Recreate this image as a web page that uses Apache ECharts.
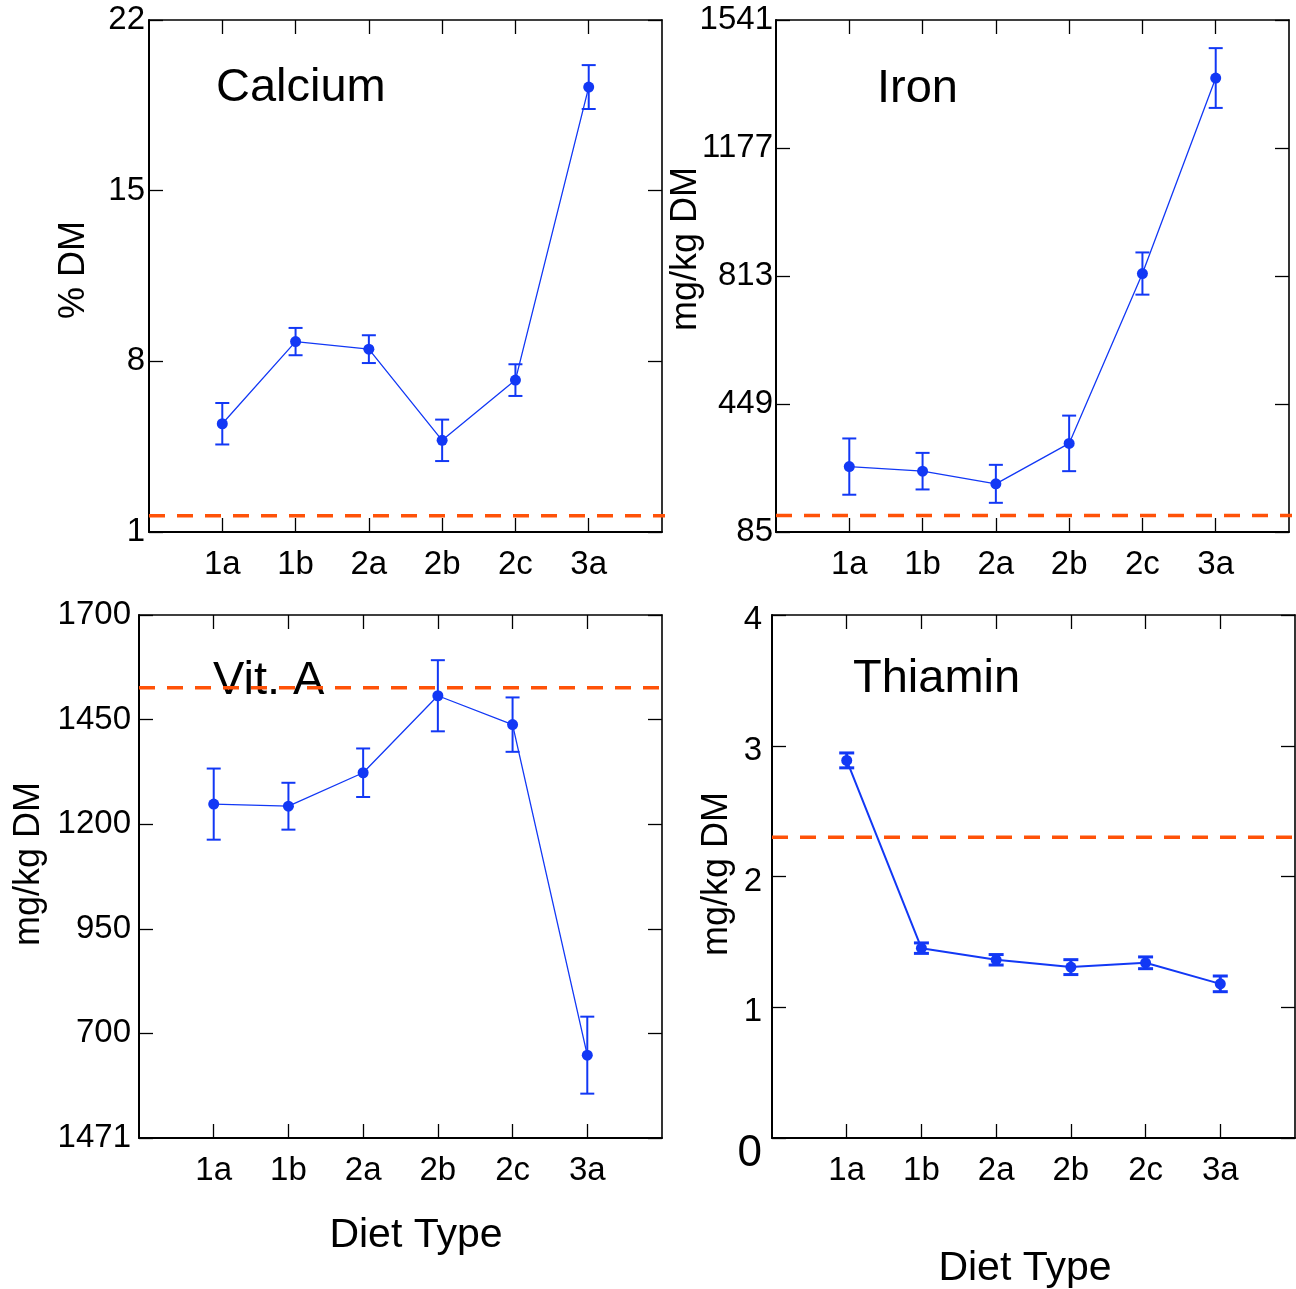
<!DOCTYPE html>
<html>
<head>
<meta charset="utf-8">
<script src="https://cdn.jsdelivr.net/npm/echarts@6/dist/echarts.min.js"></script>
<style>
  html, body { margin: 0; padding: 0; background: #ffffff; }
  #chart { width: 1296px; height: 1289px; }
</style>
</head>
<body>
<div id="chart"></div>
<script>
// Diet types along the x axis (placed at positions 1..6)
const dietTypes = ['1a', '1b', '2a', '2b', '2c', '3a'];

// Calcium, % DM
const calciumMean = [5.44, 8.81, 8.50, 4.76, 7.23, 19.25];
const calciumErr = [0.85, 0.56, 0.57, 0.85, 0.65, 0.90];
const calciumRef = 1.67;
const calciumTicks = [1, 8, 15, 22];

// Iron, mg/kg DM
const ironMean = [271, 258, 222, 337, 820, 1376];
const ironErr = [80, 52, 54, 79, 60, 85];
const ironRef = 132;
const ironTicks = [85, 449, 813, 1177, 1541];

// Vitamin A, mg/kg DM
const vitAMean = [1248, 1243, 1323, 1507, 1438, 648];
const vitAErr = [85, 56, 58, 85, 65, 92];
const vitARef = 1526;
const vitATicks = [450, 700, 950, 1200, 1450, 1700];
const vitATickLabels = ['1471', '700', '950', '1200', '1450', '1700'];

// Thiamin, mg/kg DM
const thiaminMean = [2.888, 1.452, 1.363, 1.307, 1.340, 1.179];
const thiaminErr = [0.057, 0.040, 0.040, 0.057, 0.045, 0.060];
const thiaminRef = 2.3;
const thiaminTicks = [0, 1, 2, 3, 4];

const FONT = '"Liberation Sans", Arial, Helvetica, sans-serif';
const BLUE = '#1238f5';
const ORANGE = '#ff5208';
const catPos = dietTypes.map((_, i) => i + 1);

const panels = [
  {
    title: 'Calcium', mean: calciumMean, err: calciumErr, ref: calciumRef, refEnd: 7.12,
    ticks: calciumTicks, tickLabels: calciumTicks.map(String),
    grid: { left: 149, top: 20, width: 513, height: 512 },
    labelMargin: 4, lineWidth: 1.3, barWidth: 2, capW: 14
  },
  {
    title: 'Iron', mean: ironMean, err: ironErr, ref: ironRef, refEnd: 7.11,
    ticks: ironTicks, tickLabels: ironTicks.map(String),
    grid: { left: 776, top: 20, width: 513, height: 512 },
    labelMargin: 3, lineWidth: 1.3, barWidth: 2, capW: 14
  },
  {
    title: 'Vit. A', mean: vitAMean, err: vitAErr, ref: vitARef, refEnd: 7.0,
    ticks: vitATicks, tickLabels: vitATickLabels,
    grid: { left: 139, top: 615, width: 523, height: 523 },
    labelMargin: 8, lineWidth: 1.3, barWidth: 2, capW: 14
  },
  {
    title: 'Thiamin', mean: thiaminMean, err: thiaminErr, ref: thiaminRef, refEnd: 7.0,
    ticks: thiaminTicks, tickLabels: thiaminTicks.map(String),
    grid: { left: 772, top: 615, width: 523, height: 523 },
    labelMargin: 10, lineWidth: 2, barWidth: 3, capW: 15, bigZero: true
  }
];

const grids = [], xAxes = [], yAxes = [], series = [];

panels.forEach((p, g) => {
  grids.push(Object.assign({ containLabel: false }, p.grid));
  const ymin = p.ticks[0], ymax = p.ticks[p.ticks.length - 1];

  const tickStyle = { show: true, inside: true, length: 14, lineStyle: { color: '#000', width: 1.3 } };
  const mainLine = { show: true, onZero: false, lineStyle: { color: '#000', width: 2 } };
  const mirrorLine = { show: true, onZero: false, lineStyle: { color: '#000', width: 1.6 } };

  // bottom x axis with labels
  xAxes.push({
    gridIndex: g, type: 'value', position: 'bottom', min: 0, max: 7,
    axisLine: mainLine,
    axisTick: Object.assign({ customValues: catPos }, tickStyle),
    axisLabel: {
      customValues: catPos, margin: 16, color: '#000', fontSize: 33, fontFamily: FONT,
      formatter: v => dietTypes[Math.round(v) - 1] || ''
    },
    splitLine: { show: false }
  });
  // top mirror axis
  xAxes.push({
    gridIndex: g, type: 'value', position: 'top', min: 0, max: 7,
    axisLine: mirrorLine,
    axisTick: Object.assign({ customValues: catPos }, tickStyle),
    axisLabel: { show: false }, splitLine: { show: false }
  });

  const labelCfg = {
    customValues: p.ticks, margin: p.labelMargin, color: '#000', fontSize: 33, fontFamily: FONT,
    padding: [10, 0, 0, 0],
    formatter: v => {
      const idx = p.ticks.indexOf(v);
      const txt = idx >= 0 ? p.tickLabels[idx] : '';
      if (p.bigZero && v === 0) return '{big|' + txt + '}';
      return txt;
    }
  };
  if (p.bigZero) {
    labelCfg.rich = { big: { fontSize: 44, fontFamily: FONT, color: '#000', padding: [22, 0, 0, 0] } };
  }
  // left y axis with labels
  yAxes.push({
    gridIndex: g, type: 'value', position: 'left', min: ymin, max: ymax,
    axisLine: mainLine,
    axisTick: Object.assign({ customValues: p.ticks }, tickStyle),
    axisLabel: labelCfg,
    splitLine: { show: false }
  });
  // right mirror axis
  yAxes.push({
    gridIndex: g, type: 'value', position: 'right', min: ymin, max: ymax,
    axisLine: mirrorLine,
    axisTick: Object.assign({ customValues: p.ticks }, tickStyle),
    axisLabel: { show: false }, splitLine: { show: false }
  });

  const xi = g * 2, yi = g * 2;

  // guideline value
  series.push({
    type: 'line', xAxisIndex: xi, yAxisIndex: yi, clip: false, silent: true,
    symbol: 'none', z: 3,
    data: [[0, p.ref], [p.refEnd, p.ref]],
    lineStyle: { color: ORANGE, width: 3.5, type: [16, 12] }
  });

  // error bars (mean ± err)
  series.push({
    type: 'custom', xAxisIndex: xi, yAxisIndex: yi, clip: false, z: 4,
    data: p.mean.map((m, i) => [i + 1, m, p.err[i]]),
    renderItem: (params, api) => {
      const x = api.value(0), y = api.value(1), e = api.value(2);
      const top = api.coord([x, y + e]);
      const bot = api.coord([x, y - e]);
      const hw = p.capW / 2;
      const style = { stroke: BLUE, lineWidth: p.barWidth };
      return {
        type: 'group',
        children: [
          { type: 'line', shape: { x1: top[0], y1: top[1], x2: bot[0], y2: bot[1] }, style },
          { type: 'line', shape: { x1: top[0] - hw, y1: top[1], x2: top[0] + hw, y2: top[1] }, style },
          { type: 'line', shape: { x1: bot[0] - hw, y1: bot[1], x2: bot[0] + hw, y2: bot[1] }, style }
        ]
      };
    }
  });

  // means
  series.push({
    type: 'line', xAxisIndex: xi, yAxisIndex: yi, z: 5,
    data: p.mean.map((m, i) => [i + 1, m]),
    symbol: 'circle', symbolSize: 11,
    itemStyle: { color: BLUE },
    lineStyle: { color: BLUE, width: p.lineWidth }
  });
});

const label = (text, x, y, size, rotated, align) => ({
  type: 'text', z: 0, x, y,
  rotation: rotated ? Math.PI / 2 : 0,
  style: {
    text, fill: '#000', font: size + 'px ' + FONT,
    align: align || 'center', verticalAlign: 'middle'
  }
});

const graphics = [
  // panel titles
  label('Calcium', 216, 88, 47, false, 'left'),
  label('Iron', 877, 89, 47, false, 'left'),
  label('Vit. A', 213, 681, 47, false, 'left'),
  label('Thiamin', 853, 679, 47, false, 'left'),
  // axis titles
  label('% DM', 74, 270, 36, true),
  label('mg/kg DM', 686, 249, 36, true),
  label('mg/kg DM', 29, 864, 36, true),
  label('mg/kg DM', 717, 874, 36, true),
  label('Diet Type', 416, 1236, 41),
  label('Diet Type', 1025, 1269, 41)
];

const chart = echarts.init(document.getElementById('chart'), null, { renderer: 'canvas' });
chart.setOption({
  backgroundColor: '#ffffff',
  animation: false,
  textStyle: { fontFamily: FONT },
  grid: grids,
  xAxis: xAxes,
  yAxis: yAxes,
  series: series,
  graphic: graphics
});
</script>
</body>
</html>
